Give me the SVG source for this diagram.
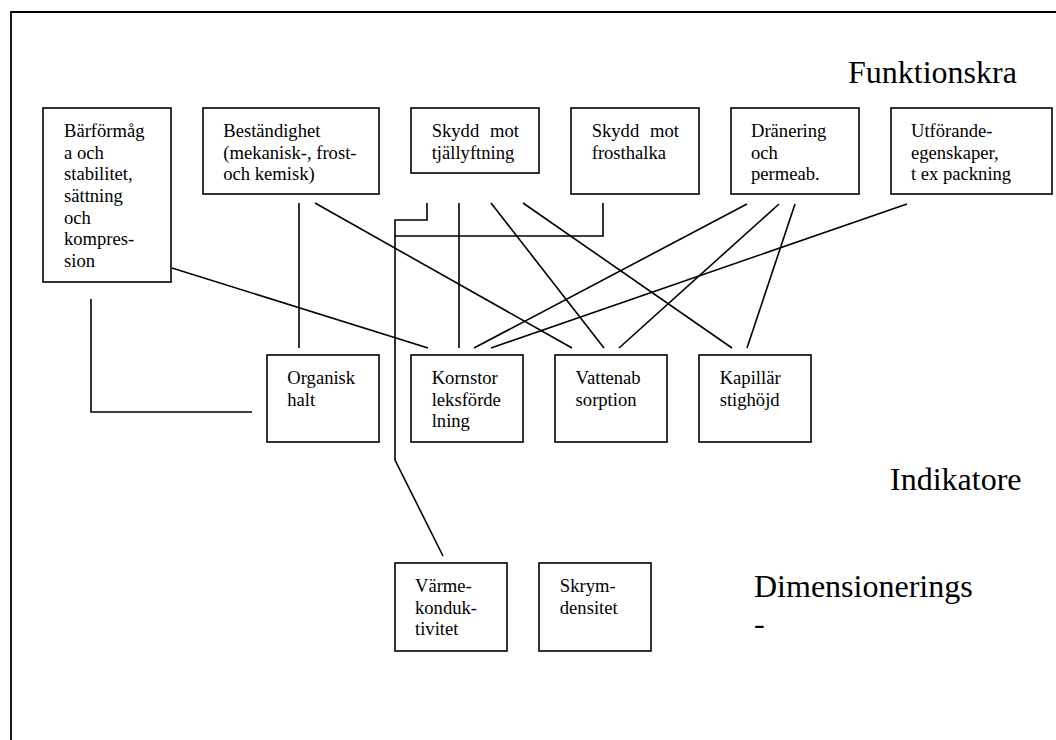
<svg xmlns="http://www.w3.org/2000/svg" width="1056" height="740" viewBox="0 0 1056 740">
<style>
.bx{fill:#fff;stroke:#000;stroke-width:1.6}
.t{font-family:"Liberation Serif","Times New Roman",serif;font-size:18.6px;fill:#000}
.h{font-family:"Liberation Serif","Times New Roman",serif;font-size:32px;fill:#000}
.c{fill:none;stroke:#000;stroke-width:1.6}
</style>
<rect width="1056" height="740" fill="#fff"/>
<path d="M11,740 V12 H1056" fill="none" stroke="#000" stroke-width="1.8"/>
<text class="h" x="848" y="83">Funktionskra</text>
<text class="h" x="890" y="490">Indikatore</text>
<text class="h" x="754" y="597">Dimensionerings</text>
<text class="h" x="754" y="634">-</text>
<g id="connectors">
<polyline class="c" points="91,299 91,412 252,412"/>
<line class="c" x1="172" y1="268" x2="428" y2="348"/>
<line class="c" x1="299" y1="203" x2="299" y2="348"/>
<line class="c" x1="315" y1="203" x2="572" y2="348"/>
<polyline class="c" points="427,203 427,220 395,220 395,460 443,556"/>
<polyline class="c" points="603,203 603,236 395,236"/>
<line class="c" x1="459" y1="203" x2="459" y2="348"/>
<line class="c" x1="491" y1="203" x2="604" y2="348"/>
<line class="c" x1="523" y1="203" x2="732" y2="348"/>
<line class="c" x1="747" y1="204" x2="474" y2="348"/>
<line class="c" x1="779" y1="204" x2="619" y2="348"/>
<line class="c" x1="795" y1="204" x2="747" y2="348"/>
<line class="c" x1="907" y1="204" x2="491" y2="348"/>
</g>
<g id="n-barformaga">
<rect class="bx" x="43" y="108" width="128" height="174"/>
<text class="t"><tspan x="64" y="137">Bärförmåg</tspan><tspan x="64" y="158.7">a och</tspan><tspan x="64" y="180.3">stabilitet,</tspan><tspan x="64" y="202">sättning</tspan><tspan x="64" y="223.7">och</tspan><tspan x="64" y="245.3">kompres-</tspan><tspan x="64" y="267">sion</tspan></text>
</g>
<g id="n-bestandighet">
<rect class="bx" x="203" y="108" width="176" height="86"/>
<text class="t"><tspan x="223.3" y="137">Beständighet</tspan><tspan x="223.3" y="158.7">(mekanisk-, frost-</tspan><tspan x="223.3" y="180.3">och kemisk)</tspan></text>
</g>
<g id="n-tjallyftning">
<rect class="bx" x="411" y="108" width="128" height="65"/>
<text class="t"><tspan x="431.7" y="137">Skydd</tspan><tspan x="490" y="137">mot</tspan><tspan x="431.7" y="158.7">tjällyftning</tspan></text>
</g>
<g id="n-frosthalka">
<rect class="bx" x="571" y="108" width="128" height="86"/>
<text class="t"><tspan x="591.7" y="137">Skydd</tspan><tspan x="650" y="137">mot</tspan><tspan x="591.7" y="158.7">frosthalka</tspan></text>
</g>
<g id="n-dranering">
<rect class="bx" x="731" y="108" width="128" height="86"/>
<text class="t"><tspan x="751" y="137">Dränering</tspan><tspan x="751" y="158.7">och</tspan><tspan x="751" y="180.3">permeab.</tspan></text>
</g>
<g id="n-utforande">
<rect class="bx" x="891" y="108" width="161" height="86"/>
<text class="t"><tspan x="911" y="137">Utförande-</tspan><tspan x="911" y="158.7">egenskaper,</tspan><tspan x="911" y="180.3">t ex packning</tspan></text>
</g>
<g id="n-organisk">
<rect class="bx" x="267" y="355" width="112" height="87"/>
<text class="t"><tspan x="287.3" y="384">Organisk</tspan><tspan x="287.3" y="405.7">halt</tspan></text>
</g>
<g id="n-kornstorlek">
<rect class="bx" x="411" y="355" width="112" height="87"/>
<text class="t"><tspan x="431.7" y="384">Kornstor</tspan><tspan x="431.7" y="405.7">leksförde</tspan><tspan x="431.7" y="427.3">lning</tspan></text>
</g>
<g id="n-vattenabsorption">
<rect class="bx" x="555" y="355" width="112" height="87"/>
<text class="t"><tspan x="575.6" y="384">Vattenab</tspan><tspan x="575.6" y="405.7">sorption</tspan></text>
</g>
<g id="n-kapillar">
<rect class="bx" x="699" y="355" width="112" height="87"/>
<text class="t"><tspan x="719.7" y="384">Kapillär</tspan><tspan x="719.7" y="405.7">stighöjd</tspan></text>
</g>
<g id="n-varme">
<rect class="bx" x="395" y="563" width="112" height="88"/>
<text class="t"><tspan x="415" y="592">Värme-</tspan><tspan x="415" y="613.7">konduk-</tspan><tspan x="415" y="635.3">tivitet</tspan></text>
</g>
<g id="n-skrym">
<rect class="bx" x="539" y="563" width="112" height="88"/>
<text class="t"><tspan x="559.8" y="592">Skrym-</tspan><tspan x="559.8" y="613.7">densitet</tspan></text>
</g>
</svg>
